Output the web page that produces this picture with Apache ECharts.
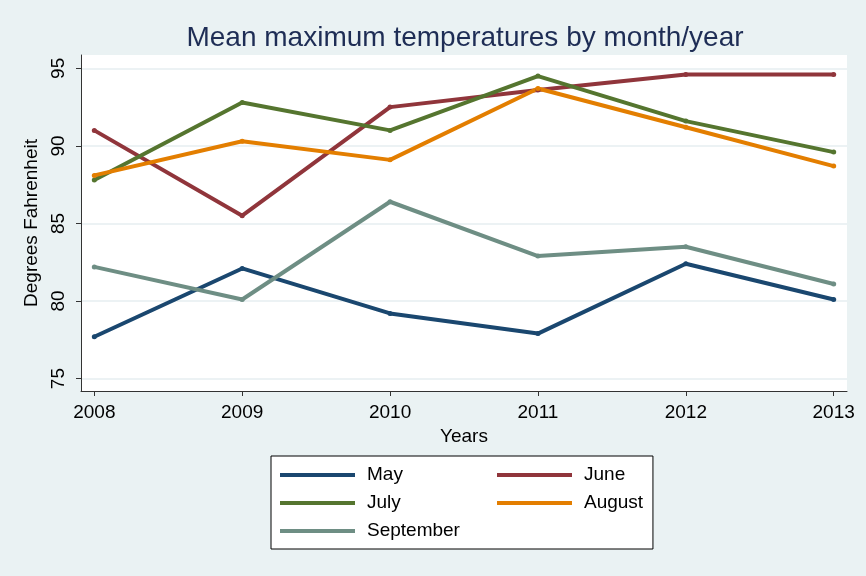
<!DOCTYPE html>
<html>
<head>
    <meta charset="utf-8">
    <title>Mean maximum temperatures</title>
    <script src="https://cdn.jsdelivr.net/npm/echarts@6/dist/echarts.min.js"></script>
</head>
<style>
    html, body, #main {
        width: 100%;
        height: 100%;
        margin: 0;
    }
</style>
<body>
<div id='main'></div>
<script>
    var years = [2008, 2009, 2010, 2011, 2012, 2013];
    var yTicks = [75, 80, 85, 90, 95];

    var may = [77.7, 82.1, 79.2, 77.9, 82.4, 80.1];
    var june = [91.0, 85.5, 92.5, 93.6, 94.6, 94.6];
    var july = [87.8, 92.8, 91.0, 94.5, 91.6, 89.6];
    var august = [88.1, 90.3, 89.1, 93.7, 91.2, 88.7];
    var september = [82.2, 80.1, 86.4, 82.9, 83.5, 81.1];

    var names = ['May', 'June', 'July', 'August', 'September'];
    var values = [may, june, july, august, september];
    var colors = ['#1a476f', '#90353b', '#55752f', '#e37e00', '#6e8e84'];

    var font = 'Liberation Sans, Arial, sans-serif';

    var series = [];
    for (var i = 0; i < names.length; i++) {
        series.push({
            name: names[i],
            type: 'line',
            data: years.map(function (y, k) { return [y, values[i][k]]; }),
            symbol: 'circle',
            symbolSize: 5,
            color: colors[i],
            lineStyle: {width: 4, color: colors[i]},
            itemStyle: {color: colors[i]},
            emphasis: {disabled: true}
        });
    }

    var chart = echarts.init(document.getElementById('main'));
    var option = {
        backgroundColor: '#eaf2f3',
        animation: false,
        textStyle: {fontFamily: font},
        title: {
            text: 'Mean maximum temperatures by month/year',
            left: 460,
            top: 19,
            textAlign: 'center',
            textStyle: {fontFamily: font, fontSize: 28, fontWeight: 'normal', color: '#1e2d55'}
        },
        grid: {
            left: 81, right: 19, top: 55, bottom: 185,
            show: true, backgroundColor: '#ffffff', borderWidth: 0
        },
        legend: [{
            data: ['May', 'July', 'September'],
            orient: 'vertical',
            left: 271, top: 456,
            padding: [5, 193, 4, 9],
            backgroundColor: '#ffffff',
            borderColor: '#000000',
            borderWidth: 1,
            icon: 'rect',
            itemWidth: 75, itemHeight: 4, itemGap: 0,
            textStyle: {fontFamily: font, fontSize: 19, color: '#000', lineHeight: 28, padding: [0, 0, 0, 7]}
        }, {
            data: ['June', 'August'],
            orient: 'vertical',
            left: 497, top: 461,
            padding: 0,
            z: 5,
            icon: 'rect',
            itemWidth: 75, itemHeight: 4, itemGap: 0,
            textStyle: {fontFamily: font, fontSize: 19, color: '#000', lineHeight: 28, padding: [0, 0, 0, 7]}
        }],
        xAxis: {
            type: 'value',
            min: 2007.91, max: 2013.09,
            name: 'Years',
            nameLocation: 'middle',
            nameGap: 34,
            nameTextStyle: {fontFamily: font, fontSize: 19, color: '#000'},
            axisLine: {lineStyle: {color: '#333', width: 1}},
            axisTick: {show: true, length: 5, customValues: years, lineStyle: {color: '#333'}},
            axisLabel: {customValues: years, margin: 12, fontSize: 19, color: '#000',
                formatter: function (v) { return String(v); }},
            splitLine: {show: false}
        },
        yAxis: {
            type: 'value',
            min: 74.2, max: 95.86,
            name: 'Degrees Fahrenheit',
            nameLocation: 'middle',
            nameRotate: 90,
            nameGap: 38,
            nameTextStyle: {fontFamily: font, fontSize: 19, color: '#000'},
            axisLine: {show: true, lineStyle: {color: '#333', width: 1}},
            axisTick: {show: true, length: 5, customValues: yTicks, lineStyle: {color: '#333'}},
            axisLabel: {customValues: yTicks, rotate: 90, margin: 13, fontSize: 19, color: '#000'},
            splitLine: {show: true, lineStyle: {color: '#e6eef0', width: 1.5}}
        },
        series: series
    };
    chart.setOption(option);

    window.onresize = chart.resize;
</script>
</body>
</html>
